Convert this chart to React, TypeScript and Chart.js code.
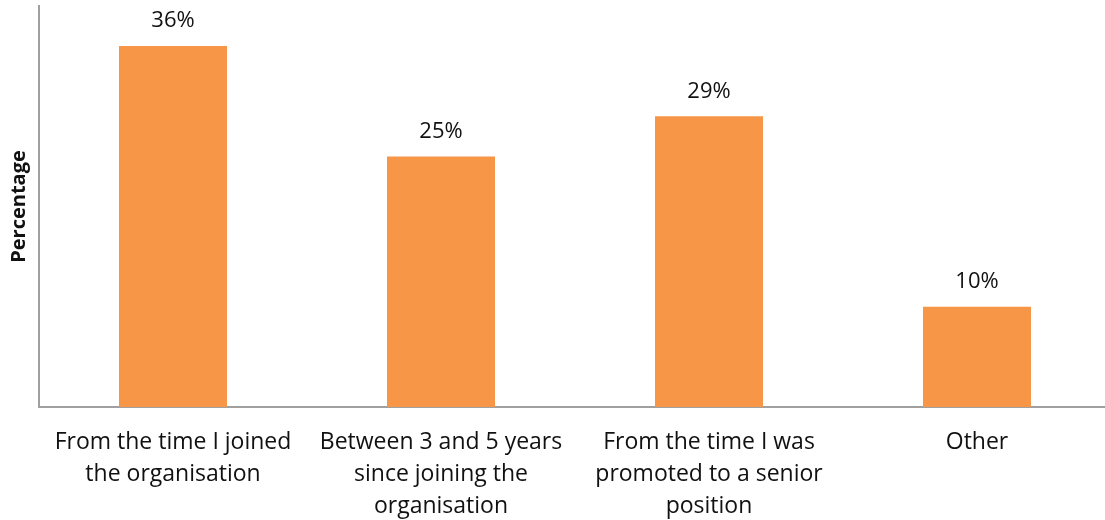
import React, { useEffect, useRef } from "react";
import { Chart, registerables } from "chart.js";

Chart.register(...registerables);

const categories: string[][] = [
  ["From the time I joined", "the organisation"],
  ["Between 3 and 5 years", "since joining the", "organisation"],
  ["From the time I was", "promoted to a senior", "position"],
  ["Other"],
];
const values: number[] = [36, 25, 29, 10];
const yMax = 40;
const yTitle = "Percentage";

const FONT = "'Open Sans', 'DejaVu Sans', sans-serif";

const labelPlugin = {
  id: "barLabels",
  afterDatasetsDraw(chart: any) {
    const ctx = chart.ctx;
    const meta = chart.getDatasetMeta(0);
    ctx.save();
    ctx.font = `22px ${FONT}`;
    ctx.fillStyle = "#111";
    ctx.textAlign = "center";
    ctx.textBaseline = "middle";
    meta.data.forEach((bar: any, i: number) => {
      ctx.fillText(`${values[i]}%`, bar.x, bar.y - 25);
    });
    ctx.restore();
  },
};

export default function App() {
  const ref = useRef<HTMLCanvasElement>(null);
  useEffect(() => {
    if (!ref.current) return;
    const chart = new Chart(ref.current, {
      type: "bar",
      data: {
        labels: categories,
        datasets: [
          {
            data: values,
            backgroundColor: "#F79646",
            barPercentage: 0.403,
            categoryPercentage: 1,
          },
        ],
      },
      options: {
        animation: false,
        responsive: false,
        maintainAspectRatio: false,
        layout: { padding: { top: 6, right: 0, left: 0, bottom: 0 } },
        plugins: { legend: { display: false }, tooltip: { enabled: false } },
        scales: {
          x: {
            grid: { display: false, drawTicks: false },
            border: { display: true, color: "#a0a0a0", width: 2 },
            ticks: {
              color: "#111",
              font: { family: FONT, size: 23, lineHeight: "32px" as any },
              padding: 19,
              maxRotation: 0,
              autoSkip: false,
            },
            afterFit(scale: any) {
              scale.height = 113;
            },
          },
          y: {
            min: 0,
            max: yMax,
            grid: { display: false, drawTicks: false },
            border: { display: true, color: "#a0a0a0", width: 2 },
            ticks: { display: false },
            title: {
              display: true,
              text: yTitle,
              color: "#111",
              font: { family: FONT, size: 20, weight: "bold" },
              padding: { top: 7, bottom: 0 },
            },
            afterFit(scale: any) {
              scale.width = 39;
            },
          },
        },
      },
      plugins: [labelPlugin],
    });
    return () => chart.destroy();
  }, []);
  return (
    <div style={{ position: "fixed", left: 0, top: 0, width: 1105, height: 520, overflow: "hidden", background: "#fff" }}>
      <canvas ref={ref} width={1111} height={520} style={{ width: 1111, height: 520, display: "block" }} />
    </div>
  );
}
